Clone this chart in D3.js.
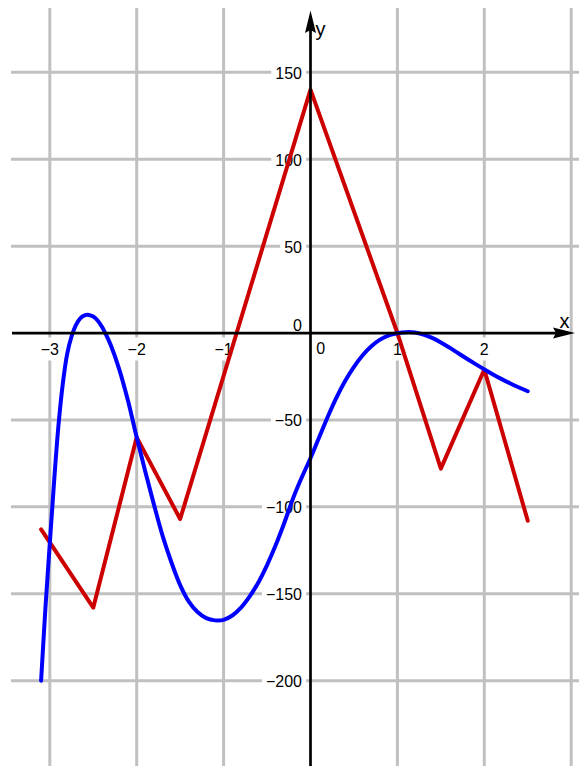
<!DOCTYPE html>
<html>
<head>
<meta charset="utf-8">
<script src="https://cdn.jsdelivr.net/npm/d3@7"></script>
<style>
html,body{margin:0;padding:0;background:#fff;}
svg{display:block;}
text{font-family:"Liberation Sans",Arial,Helvetica,sans-serif;}
</style>
</head>
<body>
<svg id="chart" width="580" height="766"></svg>
<script>
// ---- data ----
const xGridValues = [-3, -2, -1, 1, 2, 3];
const xTickLabels = [-3, -2, -1, 1, 2];
const yGridValues = [-200, -150, -100, -50, 50, 100, 150];
const yTickLabels = [-200, -150, -100, -50, 50, 100, 150];

// red polyline vertices
const redX = [-3.1, -2.5, -2.0, -1.5, 0.0, 1.0, 1.5, 2.0, 2.5];
const redY = [-113, -158, -60, -107, 140, 0, -78, -21, -108];

// blue curve
const blueX = [-3.1, -3.05, -3.0, -2.95, -2.9, -2.85, -2.8, -2.75, -2.7, -2.65, -2.6, -2.55, -2.5, -2.45, -2.4, -2.35, -2.3, -2.2, -2.1, -2.0,
  -1.9, -1.8, -1.7, -1.6, -1.5, -1.4, -1.3, -1.2, -1.1, -1.0, -0.9, -0.8, -0.7, -0.6, -0.5, -0.4, -0.3, -0.2, -0.1, 0.0,
  0.1, 0.2, 0.3, 0.4, 0.5, 0.6, 0.7, 0.8, 0.9, 1.0, 1.1, 1.2, 1.3, 1.4, 1.5, 1.6, 1.7, 1.8, 1.9, 2.0, 2.1, 2.2, 2.3, 2.4, 2.5];
const blueY = [-200, -158, -121, -85, -53, -29, -12, -2, 4.5, 8.5, 10.2, 10.4, 9.5, 7.2, 3.6, -1.2, -6.8, -21, -39, -60,
  -80, -99, -117, -132, -145, -154.5, -160.5, -164, -165.3, -165, -162.5, -158, -151.5, -143.5, -133.5, -122, -109, -95, -83, -72,
  -60, -48, -37, -27.5, -19.5, -12.8, -7.6, -3.8, -1.3, -0.1, 0.5, 0.3, -0.9, -2.8, -5.4, -8.4, -11.6, -14.8, -17.9, -20.9, -23.8, -26.5, -29, -31.3, -33.5];

// ---- scales ----
const svg = d3.select("#chart");
const x = d3.scaleLinear().domain([-3, 3]).range([49.8, 571.2]);
const y = d3.scaleLinear().domain([-200, 150]).range([680.7, 72.3]);

const gridColor = "#c0c0c0";

// grid
const grid = svg.append("g");
grid.selectAll("line.v").data(xGridValues).join("line")
  .attr("x1", d => x(d)).attr("x2", d => x(d))
  .attr("y1", 8).attr("y2", 766)
  .attr("stroke", gridColor).attr("stroke-width", 3);
grid.selectAll("line.h").data(yGridValues).join("line")
  .attr("x1", 11).attr("x2", 579)
  .attr("y1", d => y(d)).attr("y2", d => y(d))
  .attr("stroke", gridColor).attr("stroke-width", 3);

// labels with white background
const labels = svg.append("g").attr("font-size", 16).attr("fill", "#000");
function fmt(v){ return v < 0 ? "\u2212" + Math.abs(v) : String(v); }
function addLabel(txt, px, py, anchor, padX, padY){
  const g = labels.append("g");
  const t = g.append("text").attr("x", px).attr("y", py)
    .attr("text-anchor", anchor).attr("dominant-baseline", "central").text(txt);
  const b = t.node().getBBox();
  g.insert("rect", "text").attr("x", b.x - padX).attr("y", b.y - padY)
    .attr("width", b.width + 2*padX).attr("height", b.height + 2*padY).attr("fill", "#fff");
}
xTickLabels.forEach(v => addLabel(fmt(v), x(v), 349, "middle", 3, 3));
yTickLabels.forEach(v => addLabel(fmt(v), 302, y(v) + 1, "end", 4, 2));
addLabel("0", 320.7, 348, "middle", 2, 2);
addLabel("0", 297.5, 325, "middle", 2, 2);

// curves
const redData = redX.map((v, i) => [v, redY[i]]);
const blueData = blueX.map((v, i) => [v, blueY[i]]);
const lineRed = d3.line().x(d => x(d[0])).y(d => y(d[1]));
const lineBlue = d3.line().x(d => x(d[0])).y(d => y(d[1])).curve(d3.curveCatmullRom.alpha(0.5));

svg.append("path").datum(redData).attr("d", lineRed)
  .attr("fill", "none").attr("stroke", "#cc0000").attr("stroke-width", 4)
  .attr("stroke-linejoin", "round").attr("stroke-linecap", "round");
svg.append("path").datum(blueData).attr("d", lineBlue)
  .attr("fill", "none").attr("stroke", "#0000ff").attr("stroke-width", 4)
  .attr("stroke-linejoin", "round").attr("stroke-linecap", "round");

// axes
const x0 = x(0), y0 = y(0);
svg.append("line").attr("x1", 12).attr("x2", 560).attr("y1", y0).attr("y2", y0)
  .attr("stroke", "#000").attr("stroke-width", 2.7);
svg.append("line").attr("x1", x0).attr("x2", x0).attr("y1", 766).attr("y2", 30)
  .attr("stroke", "#000").attr("stroke-width", 2.7);
svg.append("path")
  .attr("d", `M${x0},10.5 L${x0+5.5},33 L${x0},30 L${x0-5.5},33 Z`).attr("fill", "#000");
svg.append("path")
  .attr("d", `M575,${y0} L553,${y0-5.5} L556,${y0} L553,${y0+5.5} Z`).attr("fill", "#000");

svg.append("text").attr("x", 315.5).attr("y", 35.5).attr("font-size", 20).text("y");
svg.append("text").attr("x", 559.5).attr("y", 328.3).attr("font-size", 20).text("x");
</script>
</body>
</html>
